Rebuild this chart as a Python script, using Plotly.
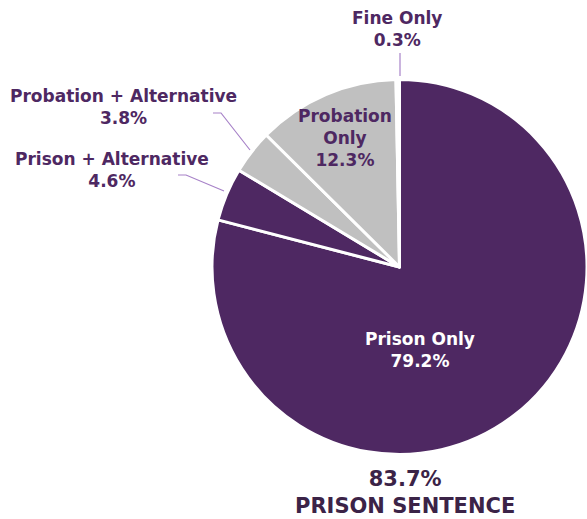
import math
import plotly.graph_objects as go

# Sentence type shares (percent of cases)
categories = ["Prison Only", "Prison + Alternative", "Probation + Alternative",
              "Probation Only", "Fine Only"]
shares = [79.2, 4.6, 3.8, 12.3, 0.3]
slice_colors = ["#4E2862", "#4E2862", "#C0C0C0", "#C0C0C0", "#FFFFFF"]
prison_total_label = "83.7%"
prison_total_caption = "PRISON SENTENCE"

W, H = 587, 519
DARK = "#4E2862"
LEADER = "#A782C8"
FONT = "DejaVu Sans"

fig = go.Figure(go.Pie(
    labels=categories,
    values=shares,
    sort=False,
    direction="clockwise",
    rotation=0,
    marker=dict(colors=slice_colors, line=dict(color="white", width=3)),
    textinfo="none",
    hoverinfo="label+percent",
    showlegend=False,
    domain=dict(x=[212 / W, 1.0], y=[(H - 455) / H, (H - 79) / H]),
))


def px(x, y):
    return x / W, 1 - y / H


def label(x, y, lines, color, size=17):
    # lines: list of text rows, y is the centre of the block
    ax, ay = px(x, y)
    fig.add_annotation(
        x=ax, y=ay, xref="paper", yref="paper",
        text="<br>".join(lines), showarrow=False,
        font=dict(family=FONT, size=size, color=color, weight=700),
        align="center", xanchor="center", yanchor="middle",
    )


def pct(v):
    return f"{v:.1f}%"


label(397, 29, ["Fine Only", pct(shares[4])], DARK)
label(123, 107, ["Probation + Alternative", pct(shares[2])], DARK)
label(112, 170, ["Prison + Alternative", pct(shares[1])], DARK)
label(345, 138, ["Probation", "Only", pct(shares[3])], DARK)
label(420, 350, ["Prison Only", pct(shares[0])], "white")
label(405, 492, [prison_total_label, prison_total_caption], "#3B2347", size=21)

# Leader lines from labels to small slices
leaders = [
    [(178, 175), (186, 175), (224, 191)],
    [(213, 113), (221, 113), (250, 150)],
    [(400, 53), (400, 76)],
]
for pts in leaders:
    path = "M " + " L ".join(f"{px(x, y)[0]},{px(x, y)[1]}" for x, y in pts)
    fig.add_shape(type="path", path=path, xref="paper", yref="paper",
                  line=dict(color=LEADER, width=1.2))

fig.update_layout(
    width=W, height=H,
    margin=dict(l=0, r=0, t=0, b=0),
    paper_bgcolor="white",
    plot_bgcolor="white",
)

fig.write_html("out.html")
